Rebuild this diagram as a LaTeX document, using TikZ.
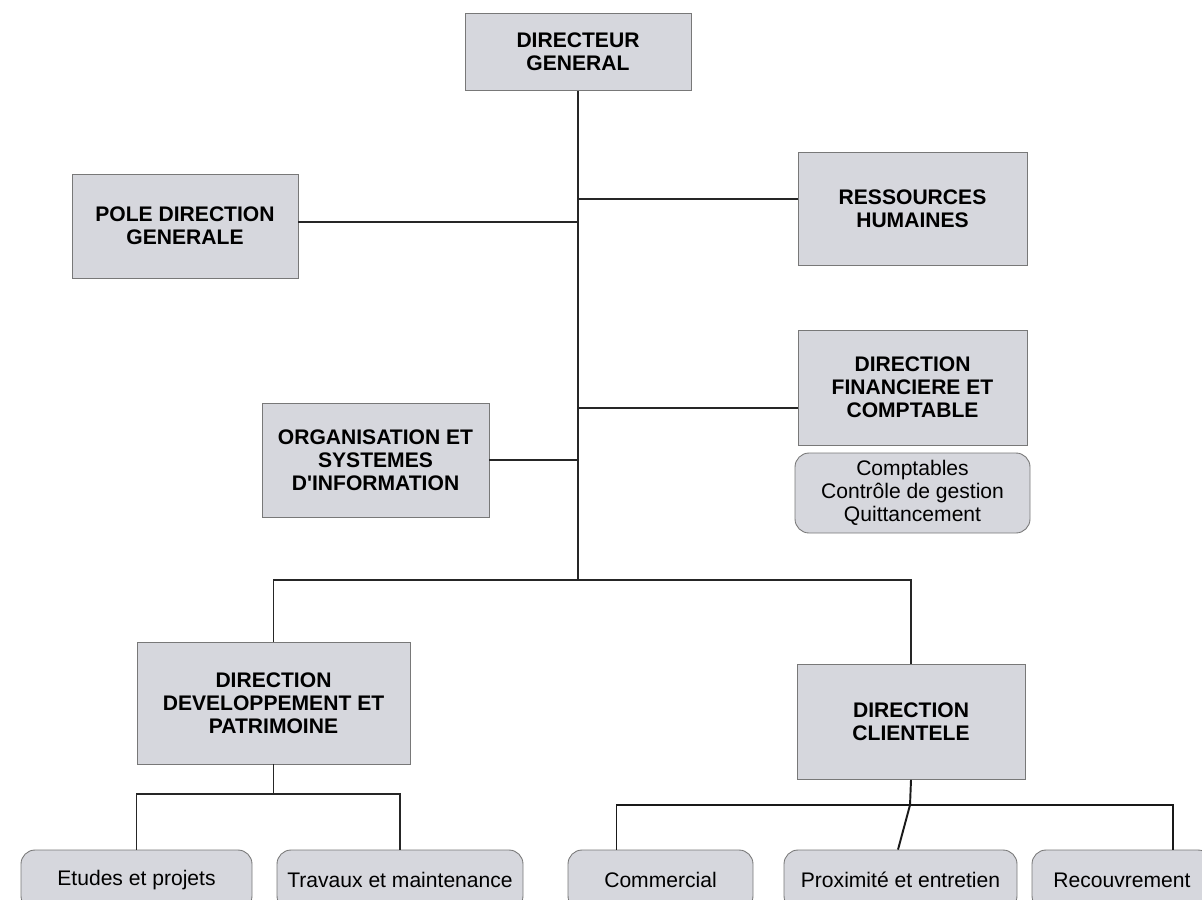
\documentclass[tikz,border=0pt]{standalone}
\usepackage{fontspec}
\setmainfont{Liberation Sans}
\usetikzlibrary{positioning}
\definecolor{fondgris}{RGB}{214,215,221}
\definecolor{bordgris}{RGB}{120,120,120}
\tikzset{
  taille/.style 2 args={minimum width=#1*0.02cm, minimum height=#2*0.02cm},
  service/.style={draw=bordgris, fill=fondgris, line width=0.5pt, align=center,
    inner sep=0pt, font=\fontsize{12}{13}\selectfont\bfseries},
  equipe/.style={draw=bordgris, fill=fondgris, line width=0.5pt, align=center,
    inner sep=0pt, rounded corners=8pt, font=\fontsize{12}{13}\selectfont},
  lien/.style={line width=0.6pt, black!85},
  lienfort/.style={line width=1.1pt, black!90}
}
\begin{document}
\begin{tikzpicture}[x=0.02cm, y=-0.02cm]
  \useasboundingbox (0,0) rectangle (1202,899);
  \clip (0,0) rectangle (1202,899);
  % 方框
  \node[service, taille={226}{77}] (dg) at (578,52) {DIRECTEUR\\GENERAL};
  \node[service, taille={226}{104}] (pdg) at (185,226) {POLE DIRECTION\\GENERALE};
  \node[service, taille={229}{113}] (rh) at (912.5,208.5) {RESSOURCES\\HUMAINES};
  \node[service, taille={229}{115}] (dfc) at (912.5,387.5) {DIRECTION\\FINANCIERE ET\\COMPTABLE};
  \node[equipe, taille={235}{80}] (cpt) at (912.5,493) {Comptables\\Contrôle de gestion\\Quittancement};
  \node[service, taille={227}{114}] (osi) at (375.5,460) {ORGANISATION ET\\SYSTEMES\\D\textquotesingle INFORMATION};
  \node[service, taille={273}{122}] (ddp) at (273.5,703) {DIRECTION\\DEVELOPPEMENT ET\\PATRIMOINE};
  \node[service, taille={228}{115}] (dc) at (911,722) {DIRECTION\\CLIENTELE};
  % 下层小组
  \node[equipe, taille={231}{60}] (etu) at (136.5,880) {Etudes et projets};
  \node[equipe, taille={246}{60}] (tra) at (400,880) {Travaux et maintenance};
  \node[equipe, taille={185}{60}] (com) at (660.5,880) {Commercial};
  \node[equipe, taille={233}{60}] (prox) at (900.5,880) {Proximité et entretien};
  \node[equipe, taille={180}{60}] (rec) at (1122,880) {Recouvrement};
  % 连线
  \coordinate (bas) at (578,580);
  \draw[lien] (dg.south) -- (bas);
  \draw[lien] ([yshift=0.08cm]pdg.east) -- ([yshift=0.08cm]pdg.east -| bas);
  \draw[lien] ([yshift=0.19cm]rh.west) -- ([yshift=0.19cm]rh.west -| bas);
  \draw[lien] ([yshift=-0.41cm]dfc.west) -- ([yshift=-0.41cm]dfc.west -| bas);
  \draw[lien] (osi.east) -- (osi.east -| bas);
  \draw[lien] (ddp.north) |- (bas) -| (dc.north);
  % 左边小组
  \coordinate (jg) at (275,794);
  \draw[lien] (ddp.south) -- (ddp.south |- jg);
  \draw[lien] (etu.north) |- (jg) -| (tra.north);
  % 右边小组
  \coordinate (jd) at (910,805);
  \draw[lienfort] (dc.south) -- (jd);
  \draw[lienfort] ([xshift=-0.88cm]com.north) |- (jd) -| ([xshift=1.02cm]rec.north);
  \draw[lienfort] (jd) -- ([xshift=-0.05cm]prox.north);
\end{tikzpicture}
\end{document}
